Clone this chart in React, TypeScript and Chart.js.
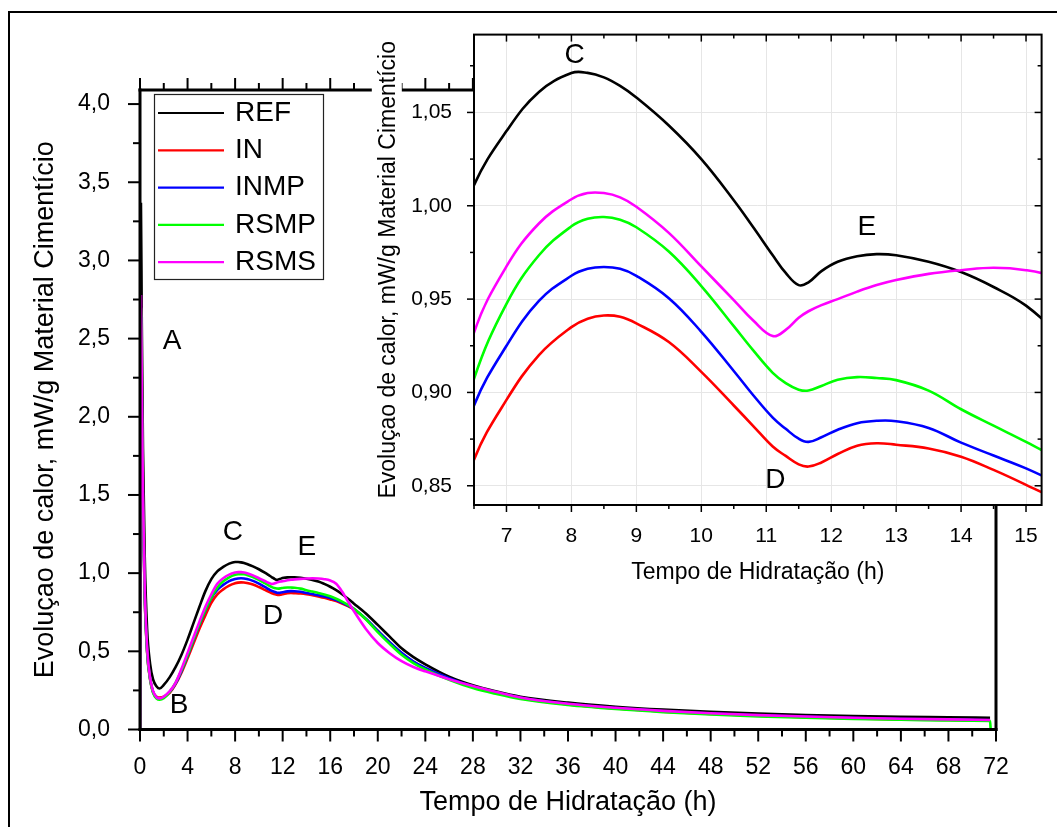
import React, { useEffect, useRef } from 'react';
import { Chart, registerables } from 'chart.js';
Chart.register(...registerables);

const FONT = 'Arial, "Liberation Sans", sans-serif';

// ---- data ----
const hours = [0, 0.08, 0.15, 0.25, 0.4, 0.6, 0.85, 1.1, 1.4, 1.65,
  2, 2.5, 3, 3.5, 4, 4.5, 5, 5.5, 6, 6.5,
  7, 7.5, 8, 8.25, 8.5, 8.75, 9, 9.5, 10, 10.5,
  10.8, 11.1, 11.3, 11.5, 11.65, 11.85, 12.1, 12.4, 12.7, 13,
  13.5, 14, 14.5, 15, 15.5, 16, 16.5, 17, 17.5, 18,
  19, 20, 21, 22, 23, 24, 26, 28, 30, 32,
  36, 40, 44, 48, 52, 56, 60, 64, 68, 71.5];

const refValues = [0, 3.36, 2.6, 1.8, 1.1, 0.64, 0.42, 0.32, 0.275, 0.262,
  0.285, 0.335, 0.40, 0.48, 0.575, 0.68, 0.785, 0.885, 0.962, 1.011,
  1.040, 1.0610, 1.0711, 1.0712, 1.0688, 1.0642, 1.0580, 1.0430, 1.0250, 1.0030,
  0.9885, 0.9735, 0.9640, 0.9575, 0.9590, 0.9650, 0.9700, 0.9730, 0.9741, 0.9735,
  0.9700, 0.9645, 0.9565, 0.9465, 0.931, 0.913, 0.891, 0.865, 0.836, 0.805,
  0.742, 0.669, 0.594, 0.519, 0.463, 0.417, 0.338, 0.283, 0.243, 0.210,
  0.172, 0.146, 0.127, 0.113, 0.102, 0.093, 0.086, 0.081, 0.078, 0.075];

const inValues = [0, 2.6, 2.05, 1.4, 0.84, 0.49, 0.32, 0.24, 0.21, 0.205,
  0.21, 0.235, 0.29, 0.365, 0.455, 0.55, 0.645, 0.73, 0.81, 0.864,
  0.896, 0.920, 0.935, 0.9395, 0.9412, 0.9405, 0.937, 0.927, 0.911, 0.893,
  0.882, 0.871, 0.866, 0.8615, 0.8603, 0.8625, 0.867, 0.8715, 0.8728, 0.872,
  0.870, 0.8656, 0.8585, 0.8505, 0.842, 0.832, 0.821, 0.806, 0.789, 0.768,
  0.706, 0.630, 0.556, 0.488, 0.433, 0.392, 0.325, 0.272, 0.233, 0.200,
  0.160, 0.134, 0.114, 0.099, 0.088, 0.079, 0.071, 0.065, 0.061, 0.057];

const inmpValues = [0, 2.65, 2.1, 1.42, 0.85, 0.50, 0.325, 0.24, 0.205, 0.198,
  0.205, 0.24, 0.295, 0.375, 0.47, 0.57, 0.67, 0.76, 0.84, 0.893,
  0.925, 0.949, 0.9625, 0.9662, 0.9672, 0.9662, 0.9625, 0.9505, 0.9325, 0.9115,
  0.8985, 0.8865, 0.8805, 0.8752, 0.8735, 0.8760, 0.8800, 0.8835, 0.8848, 0.8846,
  0.8810, 0.8731, 0.8662, 0.8593, 0.851, 0.841, 0.828, 0.812, 0.793, 0.771,
  0.708, 0.632, 0.558, 0.490, 0.435, 0.394, 0.328, 0.275, 0.236, 0.203,
  0.163, 0.137, 0.117, 0.102, 0.090, 0.081, 0.073, 0.067, 0.063, 0.059];

const rsmpValues = [0, 2.7, 2.15, 1.45, 0.86, 0.50, 0.32, 0.235, 0.198, 0.190,
  0.20, 0.24, 0.30, 0.38, 0.475, 0.575, 0.675, 0.765, 0.845, 0.9073,
  0.9475, 0.9735, 0.9890, 0.9930, 0.9940, 0.9925, 0.9885, 0.9755, 0.9570, 0.9355,
  0.9225, 0.9105, 0.9050, 0.9015, 0.9010, 0.9035, 0.9068, 0.9082, 0.9077, 0.9066,
  0.9010, 0.8910, 0.8822, 0.8735, 0.864, 0.852, 0.836, 0.818, 0.797, 0.772,
  0.705, 0.623, 0.548, 0.478, 0.425, 0.384, 0.318, 0.265, 0.227, 0.195,
  0.157, 0.131, 0.111, 0.096, 0.084, 0.075, 0.068, 0.062, 0.058, 0.054];
const rsmpEndHour = 71.55;
const rsmpEndValue = 0;

const rsmsValues = [0, 2.77, 2.2, 1.5, 0.9, 0.52, 0.33, 0.245, 0.205, 0.199,
  0.21, 0.245, 0.30, 0.39, 0.49, 0.59, 0.69, 0.785, 0.865, 0.932,
  0.9675, 0.9905, 1.0035, 1.0068, 1.0068, 1.0045, 0.9995, 0.9855, 0.9675, 0.9495,
  0.9385, 0.9302, 0.9335, 0.9400, 0.9435, 0.9468, 0.9500, 0.9540, 0.9575, 0.9602,
  0.9635, 0.9655, 0.9668, 0.9655, 0.9615, 0.953, 0.932, 0.882, 0.818, 0.756,
  0.643, 0.553, 0.488, 0.437, 0.400, 0.372, 0.322, 0.278, 0.240, 0.205,
  0.165, 0.139, 0.119, 0.104, 0.092, 0.083, 0.075, 0.069, 0.065, 0.061];

const seriesNames = ['REF', 'IN', 'INMP', 'RSMP', 'RSMS'];
const seriesColors = ['#000000', '#ff0000', '#0000ff', '#00ff00', '#ff00ff'];
const seriesOrder = [4, 3, 2, 1, 0];

const xTitle = 'Tempo de Hidratação (h)';
const yTitle = 'Evoluçao de calor, mW/g Material Cimentício';

// main axes
const mainXMin = 0, mainXMax = 72, mainXStep = 4, mainXMinor = 2;
const mainYMin = 0, mainYMax = 4.09, mainYStep = 0.5, mainYMinor = 0.25;
// inset axes
const insetXMin = 6.5, insetXMax = 15.24, insetXStep = 1, insetXMinor = 0.5;
const insetYMin = 0.8397, insetYMax = 1.0917, insetYStep = 0.05, insetYMinor = 0.025;

const mainLetters = [
  { text: 'A', hour: 2.69, value: 2.485 },
  { text: 'B', hour: 3.28, value: 0.156 },
  { text: 'C', hour: 7.82, value: 1.263 },
  { text: 'D', hour: 11.19, value: 0.726 },
  { text: 'E', hour: 14.04, value: 1.166 },
];
const insetLetters = [
  { text: 'C', hour: 8.05, value: 1.0808 },
  { text: 'E', hour: 12.55, value: 0.9883 },
  { text: 'D', hour: 11.14, value: 0.853 },
];

// ---- helpers ----
function buildDatasets(lw: number, smooth: 'monotone' | 'tension') {
  const all = [refValues, inValues, inmpValues, rsmpValues, rsmsValues];
  return all.map((vals, i) => {
    const data = hours.map((h, k) => ({ x: h, y: vals[k] }));
    if (seriesNames[i] === 'RSMP') data.push({ x: rsmpEndHour, y: rsmpEndValue });
    const ds: any = {
      label: seriesNames[i],
      data,
      borderColor: seriesColors[i],
      backgroundColor: seriesColors[i],
      borderWidth: lw,
      pointRadius: 0,
      fill: false,
      order: seriesOrder[i],
    };
    if (smooth === 'monotone') ds.cubicInterpolationMode = 'monotone';
    else ds.tension = 0.4;
    return ds;
  });
}

function eachTick(min: number, max: number, minor: number, major: number, cb: (v: number, isMajor: boolean) => void) {
  const s = Math.ceil(min / minor - 1e-9);
  const e = Math.floor(max / minor + 1e-9);
  for (let i = s; i <= e; i++) {
    const v = i * minor;
    const r = v / major;
    cb(v, Math.abs(r - Math.round(r)) < 1e-6);
  }
}

function seg(ctx: CanvasRenderingContext2D, x1: number, y1: number, x2: number, y2: number) {
  ctx.beginPath();
  ctx.moveTo(x1, y1);
  ctx.lineTo(x2, y2);
  ctx.stroke();
}

const mainDecor = {
  id: 'mainDecor',
  afterDraw(chart: any) {
    const { ctx, chartArea: ca, scales } = chart;
    const xs = scales.x, ys = scales.y;
    ctx.save();
    ctx.strokeStyle = '#000';
    ctx.lineWidth = 2;
    ctx.lineCap = 'butt';
    eachTick(mainXMin, mainXMax, mainXMinor, mainXStep, (v, maj) => {
      const p = xs.getPixelForValue(v);
      const len = maj ? 12 : 7;
      seg(ctx, p, ca.bottom, p, ca.bottom + len);
      seg(ctx, p, ca.top, p, ca.top - len);
    });
    eachTick(mainYMin, mainYMax, mainYMinor, mainYStep, (v, maj) => {
      const p = ys.getPixelForValue(v);
      const len = maj ? 12 : 7;
      seg(ctx, ca.left, p, ca.left - len, p);
    });
    ctx.lineWidth = 3;
    ctx.lineCap = 'square';
    seg(ctx, ca.left, ca.top, ca.left, ca.bottom);
    seg(ctx, ca.left, ca.bottom, ca.right, ca.bottom);
    seg(ctx, ca.left, ca.top, ca.right, ca.top);
    seg(ctx, ca.right, ca.top, ca.right, ca.bottom);

    // legend
    const lx = 154, ly = 94, lw = 169, lh = 185;
    ctx.fillStyle = '#fff';
    ctx.fillRect(lx, ly, lw, lh);
    ctx.lineWidth = 1.2;
    ctx.lineCap = 'butt';
    ctx.strokeStyle = '#222';
    ctx.strokeRect(lx + 0.5, ly + 0.5, lw, lh);
    ctx.font = `28px ${FONT}`;
    ctx.textBaseline = 'middle';
    ctx.textAlign = 'left';
    seriesNames.forEach((n, i) => {
      const y = 113 + i * 37.3;
      ctx.strokeStyle = seriesColors[i];
      ctx.lineWidth = 2.2;
      seg(ctx, 158, y, 224, y);
      ctx.fillStyle = '#000';
      ctx.fillText(n, 235, y);
    });

    ctx.font = `28px ${FONT}`;
    ctx.textAlign = 'center';
    ctx.textBaseline = 'middle';
    ctx.fillStyle = '#000';
    mainLetters.forEach((l) => {
      ctx.fillText(l.text, xs.getPixelForValue(l.hour), ys.getPixelForValue(l.value));
    });
    ctx.restore();
  },
};

const INSET_TITLE_SIZE = 23;
const INSET_TITLE_PAD = 1;

const insetDecor = {
  id: 'insetDecor',
  beforeDraw(chart: any) {
    const { ctx, chartArea: ca, scales } = chart;
    const ys = scales.y;
    ctx.save();
    ctx.fillStyle = '#fff';
    ctx.fillRect(ca.left, ca.top, ca.right - ca.left, ca.bottom - ca.top);
    ctx.font = `${INSET_TITLE_SIZE}px ${FONT}`;
    const w = ctx.measureText(yTitle).width;
    const cx = ys.left + (INSET_TITLE_SIZE * 1.2) / 2 + INSET_TITLE_PAD;
    const cy = (ca.top + ca.bottom) / 2;
    ctx.fillRect(cx - 17, cy - w / 2 - 3, 30, w + 6);
    ctx.restore();
  },
  afterDraw(chart: any) {
    const { ctx, chartArea: ca, scales } = chart;
    const xs = scales.x, ys = scales.y;
    ctx.save();
    ctx.strokeStyle = '#000';
    ctx.lineWidth = 1.5;
    ctx.lineCap = 'butt';
    eachTick(insetXMin, insetXMax, insetXMinor, insetXStep, (v, maj) => {
      const p = xs.getPixelForValue(v);
      const len = maj ? 7 : 4;
      seg(ctx, p, ca.bottom, p, ca.bottom + len);
      seg(ctx, p, ca.top, p, ca.top + len);
    });
    eachTick(insetYMin, insetYMax, insetYMinor, insetYStep, (v, maj) => {
      const p = ys.getPixelForValue(v);
      const len = maj ? 7 : 4;
      seg(ctx, ca.left, p, ca.left - len, p);
      seg(ctx, ca.right, p, ca.right - len, p);
    });
    ctx.lineWidth = 2;
    ctx.lineCap = 'square';
    ctx.strokeRect(ca.left, ca.top, ca.right - ca.left, ca.bottom - ca.top);

    ctx.font = `28px ${FONT}`;
    ctx.textAlign = 'center';
    ctx.textBaseline = 'middle';
    ctx.fillStyle = '#000';
    insetLetters.forEach((l) => {
      ctx.fillText(l.text, xs.getPixelForValue(l.hour), ys.getPixelForValue(l.value));
    });
    ctx.restore();
  },
};

function mainConfig(): any {
  return {
    type: 'line',
    data: { datasets: buildDatasets(2.6, 'monotone') },
    options: {
      animation: false,
      responsive: false,
      events: [],
      layout: { padding: { left: 0, top: 90, right: 61, bottom: 0 } },
      plugins: { legend: { display: false }, tooltip: { enabled: false } },
      scales: {
        x: {
          type: 'linear', min: mainXMin, max: mainXMax,
          afterFit: (s: any) => { s.height = 97.5; },
          grid: { display: false, drawTicks: false },
          border: { display: false },
          ticks: {
            stepSize: mainXStep, autoSkip: false, maxRotation: 0, minRotation: 0,
            includeBounds: false, padding: 24, color: '#000',
            font: { family: FONT, size: 23 },
            callback: (v: number) => String(v),
          },
          title: { display: true, text: xTitle, color: '#000', font: { family: FONT, size: 27 }, padding: { top: 0, bottom: 8 } },
        },
        y: {
          type: 'linear', min: mainYMin, max: mainYMax,
          afterFit: (s: any) => { s.width = 140; },
          grid: { display: false, drawTicks: false },
          border: { display: false },
          ticks: {
            stepSize: mainYStep, includeBounds: false, padding: 30, color: '#000',
            font: { family: FONT, size: 23 },
            callback: (v: number) => v.toFixed(1).replace('.', ','),
          },
          title: { display: true, text: yTitle, color: '#000', font: { family: FONT, size: 27 }, padding: { top: 29, bottom: 0 } },
        },
      },
    },
    plugins: [mainDecor],
  };
}

function insetConfig(): any {
  return {
    type: 'line',
    data: { datasets: buildDatasets(2.6, 'tension') },
    options: {
      animation: false,
      responsive: false,
      events: [],
      layout: { padding: { left: 374, top: 32, right: 11, bottom: 0 } },
      plugins: { legend: { display: false }, tooltip: { enabled: false } },
      scales: {
        x: {
          type: 'linear', min: insetXMin, max: insetXMax,
          afterFit: (s: any) => { s.height = 95; },
          grid: { display: true, drawTicks: false, color: '#e6e6e6', lineWidth: 1 },
          border: { display: false },
          ticks: {
            stepSize: insetXStep, autoSkip: false, maxRotation: 0, minRotation: 0,
            includeBounds: false, padding: 19, color: '#000',
            font: { family: FONT, size: 21 },
            callback: (v: number) => String(v),
          },
          title: { display: true, text: xTitle, color: '#000', font: { family: FONT, size: INSET_TITLE_SIZE }, padding: { top: 0, bottom: 14 } },
        },
        y: {
          type: 'linear', min: insetYMin, max: insetYMax,
          afterFit: (s: any) => { s.width = 100; },
          grid: { display: true, drawTicks: false, color: '#e6e6e6', lineWidth: 1 },
          border: { display: false },
          ticks: {
            stepSize: insetYStep, includeBounds: false, padding: 22, color: '#000',
            font: { family: FONT, size: 21 },
            callback: (v: number) => v.toFixed(2).replace('.', ','),
          },
          title: { display: true, text: yTitle, color: '#000', font: { family: FONT, size: INSET_TITLE_SIZE }, padding: { top: INSET_TITLE_PAD, bottom: 0 } },
        },
      },
    },
    plugins: [insetDecor],
  };
}

export default function App() {
  const mainRef = useRef<HTMLCanvasElement>(null);
  const insetRef = useRef<HTMLCanvasElement>(null);
  useEffect(() => {
    const main = new Chart(mainRef.current as HTMLCanvasElement, mainConfig());
    const inset = new Chart(insetRef.current as HTMLCanvasElement, insetConfig());
    return () => {
      main.destroy();
      inset.destroy();
    };
  }, []);
  return (
    <div style={{ position: 'fixed', left: 0, top: 0, width: 1057, height: 827, overflow: 'hidden', background: '#fff' }}>
      <canvas ref={mainRef} width={1057} height={827} style={{ position: 'absolute', left: 0, top: 0, width: 1057, height: 827 }} />
      <canvas ref={insetRef} width={1057} height={600} style={{ position: 'absolute', left: 0, top: 0, width: 1057, height: 600 }} />
      <div style={{ position: 'absolute', left: 8, top: 11, width: 1100, height: 900, border: '2px solid #000', boxSizing: 'border-box', pointerEvents: 'none' }} />
    </div>
  );
}
